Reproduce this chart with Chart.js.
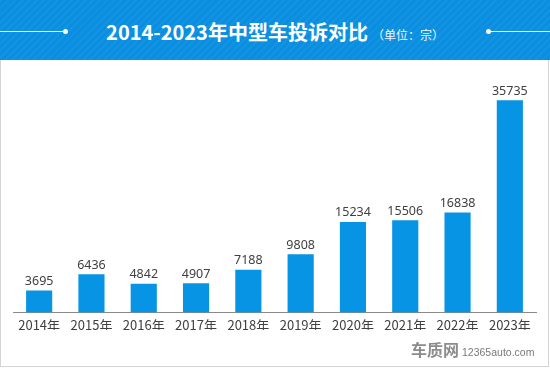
<!DOCTYPE html>
<html lang="zh">
<head>
    <meta charset="UTF-8">
    <title>2014-2023年中型车投诉对比</title>
    <script src="https://cdn.jsdelivr.net/npm/chart.js"></script>
    <style>
        body {
            margin: 0;
            width: 550px;
            height: 368px;
            overflow: hidden;
            background: #ffffff;
            font-family: "Noto Sans CJK SC", "Noto Sans", sans-serif;
        }
        .header {
            position: absolute;
            left: 0; top: 0;
            width: 550px; height: 60px;
            background-color: #0a8fe0;
            background-image: repeating-linear-gradient(135deg, rgba(255,255,255,0.04) 0 2px, rgba(0,0,0,0) 2px 5px);
        }
        .title {
            position: absolute;
            left: 0; top: 18px;
            width: 550px;
            text-align: center;
            color: #ffffff;
            font-size: 20px;
            font-weight: bold;
            line-height: 28px;
            white-space: nowrap;
        }
        .title small {
            font-size: 12px;
            font-weight: normal;
            margin-left: 4px;
            color: #eef6fc;
        }
        .deco {
            position: absolute;
            top: 31px;
            height: 1px;
            background: #ffffff;
        }
        .dot {
            position: absolute;
            top: 29px;
            width: 5px; height: 5px;
            border-radius: 50%;
            background: #ffffff;
        }
        .panel {
            position: absolute;
            left: 0; top: 60px;
            width: 547px; height: 306px;
            border-left: 1px solid #d4d4d4;
            border-right: 1px solid #d4d4d4;
            border-bottom: 1px solid #d4d4d4;
        }
        .chart-box {
            position: absolute;
            left: 0; top: 60px;
            width: 550px; height: 280px;
        }
        .watermark {
            position: absolute;
            left: 411px; top: 339px;
            white-space: nowrap;
            line-height: 20px;
        }
        .watermark b {
            font-size: 16px;
            font-weight: bold;
            color: #8c8c8c;
        }
        .watermark span {
            font-family: Arial, "Liberation Sans", sans-serif;
            font-size: 10.5px;
            margin-left: 3px;
            color: #7a7a7a;
        }
    </style>
</head>
<body>
    <div class="header">
        <div class="deco" style="left:0; width:65px;"></div>
        <div class="dot" style="left:63px;"></div>
        <div class="dot" style="left:486px;"></div>
        <div class="deco" style="left:488px; width:62px;"></div>
        <div class="title">2014-2023年中型车投诉对比<small>（单位：宗）</small></div>
    </div>
    <div class="panel"></div>
    <div class="chart-box">
        <canvas id="complaintChart" width="550" height="280"></canvas>
    </div>
    <div class="watermark"><b>车质网</b><span>12365auto.com</span></div>
    <script>
        // Complaint counts per year (mid-size cars)
        const years = ["2014年", "2015年", "2016年", "2017年", "2018年", "2019年", "2020年", "2021年", "2022年", "2023年"];
        const complaints = [3695, 6436, 4842, 4907, 7188, 9808, 15234, 15506, 16838, 35735];

        // Draw value above each bar
        const valueLabels = {
            id: 'valueLabels',
            afterDatasetsDraw(chart) {
                const ctx = chart.ctx;
                const meta = chart.getDatasetMeta(0);
                ctx.save();
                ctx.font = '12.5px "Noto Sans", "DejaVu Sans", sans-serif';
                ctx.fillStyle = '#404040';
                ctx.textAlign = 'center';
                ctx.textBaseline = 'bottom';
                meta.data.forEach((bar, i) => {
                    ctx.fillText(complaints[i], bar.x, bar.y - 3);
                });
                ctx.restore();
            }
        };

        const ctx = document.getElementById('complaintChart').getContext('2d');
        new Chart(ctx, {
            type: 'bar',
            data: {
                labels: years,
                datasets: [{
                    data: complaints,
                    backgroundColor: '#0894e4',
                    barPercentage: 0.5,
                    categoryPercentage: 1.0
                }]
            },
            options: {
                responsive: false,
                animation: false,
                layout: {
                    padding: { left: 13, right: 14, top: 15, bottom: 10 }
                },
                plugins: {
                    legend: { display: false },
                    tooltip: { enabled: false }
                },
                scales: {
                    x: {
                        grid: { display: false },
                        border: { color: '#8a8a8a', width: 1 },
                        ticks: {
                            color: '#404040',
                            font: { size: 13, family: '"Noto Sans CJK SC", "Noto Sans", sans-serif' },
                            padding: -3,
                            maxRotation: 0
                        }
                    },
                    y: {
                        display: false,
                        min: 0,
                        max: 40000
                    }
                }
            },
            plugins: [valueLabels]
        });
    </script>
</body>
</html>
